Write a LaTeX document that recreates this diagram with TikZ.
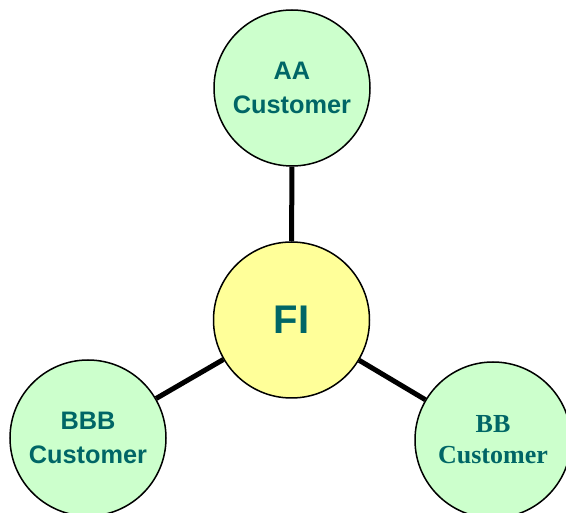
\documentclass[tikz,border=0pt]{standalone}
\usepackage{fontspec}
\setmainfont{Liberation Sans}
\newfontfamily\timesfont{Liberation Serif}
\definecolor{custgreen}{HTML}{CCFFCC}
\definecolor{fiyellow}{HTML}{FFFF99}
\definecolor{tealtext}{HTML}{006666}
\begin{document}
\begin{tikzpicture}[x=1pt,y=-1pt,
  bubble/.style={circle, draw=black, line width=1.5pt, minimum size=156pt, inner sep=0pt,
    align=center, text=tealtext, font=\fontsize{25.3}{33.5}\selectfont\bfseries},
  cust/.style={bubble, fill=custgreen},
  link/.style={line width=5pt, black}]
\useasboundingbox (0,0) rectangle (566,513);
\node[bubble, fill=fiyellow, font=\fontsize{40}{44}\selectfont\bfseries] (fi) at (291.5,320) {FI};
\node[cust] (aa) at (292,88) {AA\\Customer};
\node[cust] (bbb) at (88,438) {BBB\\Customer};
\node[cust, font=\timesfont\fontsize{26}{31}\selectfont\bfseries] (bb) at (493,440) {BB\\Customer};
\draw[link] (fi) -- (aa);
\draw[link] (fi) -- (bbb);
\draw[link] (fi) -- (bb);
\end{tikzpicture}
\end{document}
